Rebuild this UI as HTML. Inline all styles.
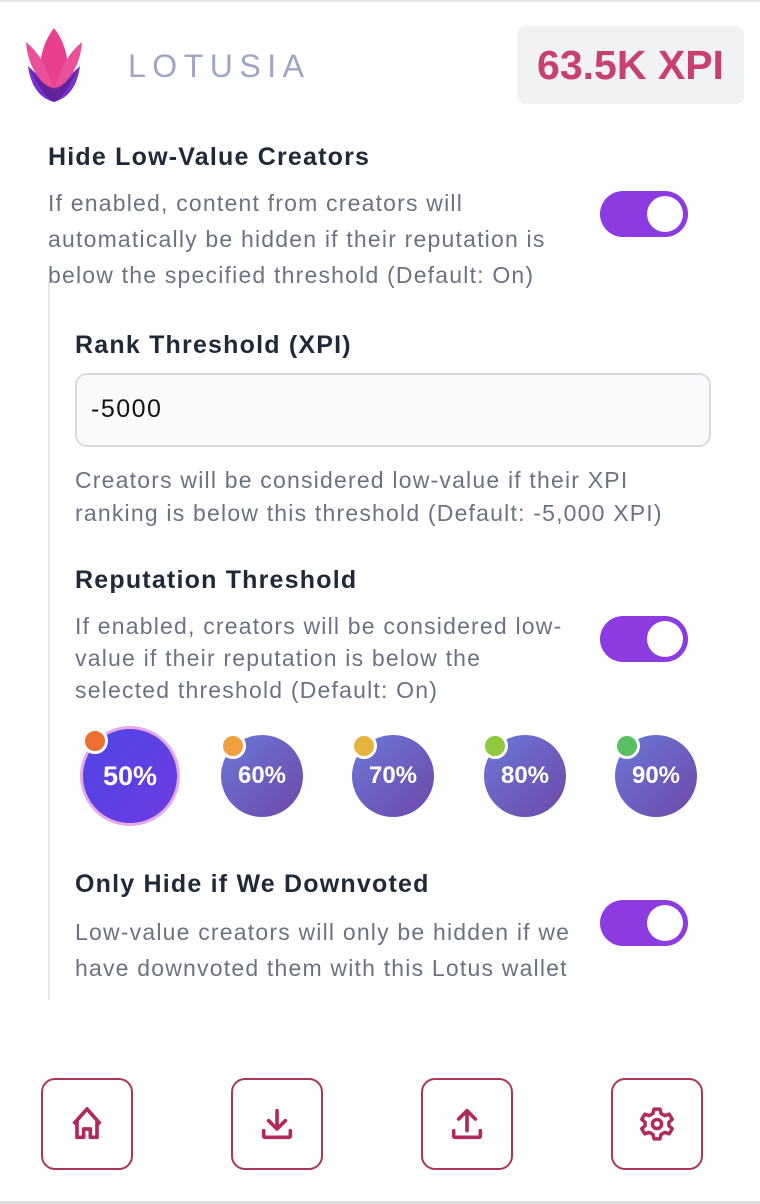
<!DOCTYPE html>
<html><head><style>
body{margin:0;width:760px;height:1204px;background:#fff;position:relative;overflow:hidden;font-family:"Liberation Sans",sans-serif}
.a{position:absolute;white-space:nowrap}
.h{font-size:25px;font-weight:bold;letter-spacing:1.2px;color:#1f2937;line-height:30px}
.d{font-size:23px;letter-spacing:1.2px;color:#6b7280}
.tg{position:absolute;width:88px;height:46px;border-radius:23px;background:#8b3be0}
.tg:after{content:"";position:absolute;right:5px;top:5px;width:36px;height:36px;border-radius:50%;background:#fff}
.c{position:absolute;width:82px;height:82px;border-radius:50%;background:linear-gradient(135deg,#6a78d8,#7048a8);color:#fff;font-weight:bold;font-size:24px;display:flex;align-items:center;justify-content:center}
.dot{position:absolute;width:20px;height:20px;border-radius:50%;border:3px solid #fff}
.b{position:absolute;top:1078px;width:88px;height:88px;border:2px solid #a8375f;border-radius:14px;display:flex;align-items:center;justify-content:center}
</style></head><body>
<div class="a" style="left:0;top:0;width:760px;height:2px;background:#e5e5e5"></div>
<svg class="a" style="left:24px;top:26px" width="60" height="80" viewBox="0 0 60 80">
<path d="M4 40 Q8 70 30 76 Q52 70 56 40 Q44 52 30 60 Q16 52 4 40Z" fill="#7a2fd0"/>
<path d="M30 2 Q16 20 16 45 Q24 62 30 66 Q36 62 44 45 Q44 20 30 2Z" fill="#e8408f"/>
<path d="M2 16 Q4 48 30 66 Q22 32 2 16Z" fill="#e8509a"/>
<path d="M58 16 Q56 48 30 66 Q38 32 58 16Z" fill="#e8509a"/>
<path d="M6 42 Q18 70 30 76 Q42 70 54 42 Q42 60 30 62 Q18 60 6 42Z" fill="#5a1f90" opacity=".8"/>
</svg>
<div class="a" style="left:128px;top:48px;font-size:32px;letter-spacing:6.5px;color:#a0a6c4">LOTUSIA</div>
<div class="a" style="left:517px;top:26px;width:227px;height:78px;background:#f1f2f4;border-radius:8px;display:flex;align-items:center;justify-content:center;font-size:41px;font-weight:bold;color:#c8406f">63.5K XPI</div>

<div class="a h" style="left:48px;top:142px">Hide Low-Value Creators</div>
<div class="a d" style="left:48px;top:185px;line-height:36px">If enabled, content from creators will<br>automatically be hidden if their reputation is<br>below the specified threshold (Default: On)</div>
<div class="tg" style="left:600px;top:191px"></div>
<div class="a" style="left:48px;top:282px;width:2px;height:718px;background:#e5e7eb"></div>

<div class="a h" style="left:75px;top:330px">Rank Threshold (XPI)</div>
<div class="a" style="left:75px;top:373px;width:632px;height:70px;border:2px solid #d8dadf;border-radius:12px;background:#f9fafb"></div>
<div class="a" style="left:91px;top:395px;font-size:25px;letter-spacing:1.5px;color:#111">-5000</div>
<div class="a d" style="left:75px;top:464px;line-height:33px">Creators will be considered low-value if their XPI<br>ranking is below this threshold (Default: -5,000 XPI)</div>

<div class="a h" style="left:75px;top:565px">Reputation Threshold</div>
<div class="a d" style="left:75px;top:610px;line-height:32px">If enabled, creators will be considered low-<br>value if their reputation is below the<br>selected threshold (Default: On)</div>
<div class="tg" style="left:600px;top:616px"></div>

<div class="c" style="left:80px;top:726px;width:94px;height:94px;border:3px solid #e8a8e8;background:linear-gradient(135deg,#4f46e5,#6d3ae0);font-size:27px">50%</div>
<div class="dot" style="left:82px;top:728px;background:#ea6f30"></div>
<div class="c" style="left:221px;top:735px">60%</div>
<div class="dot" style="left:220px;top:733px;background:#f0a040"></div>
<div class="c" style="left:352px;top:735px">70%</div>
<div class="dot" style="left:351px;top:733px;background:#e5b540"></div>
<div class="c" style="left:484px;top:735px">80%</div>
<div class="dot" style="left:482px;top:733px;background:#90c840"></div>
<div class="c" style="left:615px;top:735px">90%</div>
<div class="dot" style="left:614px;top:733px;background:#58c060"></div>

<div class="a h" style="left:75px;top:869px">Only Hide if We Downvoted</div>
<div class="a d" style="left:75px;top:914px;line-height:36px">Low-value creators will only be hidden if we<br>have downvoted them with this Lotus wallet</div>
<div class="tg" style="left:600px;top:900px"></div>

<div class="b" style="left:41px"><svg width="40" height="40" viewBox="0 0 24 24" fill="none" stroke="#b02a5e" stroke-width="2.2" stroke-linejoin="round"><path d="M4 12 L12 3 L20 12 M6 10 V20 H10 V15 H14 V20 H18 V10"/></svg></div>
<div class="b" style="left:231px"><svg width="40" height="40" viewBox="0 0 24 24" fill="none" stroke="#b02a5e" stroke-width="2.2" stroke-linecap="round" stroke-linejoin="round"><path d="M12 4 V15 M7 10 L12 15 L17 10 M4 16 V19 Q4 20 5 20 H19 Q20 20 20 19 V16"/></svg></div>
<div class="b" style="left:421px"><svg width="40" height="40" viewBox="0 0 24 24" fill="none" stroke="#b02a5e" stroke-width="2.2" stroke-linecap="round" stroke-linejoin="round"><path d="M12 16 V4 M7 9 L12 4 L17 9 M4 16 V19 Q4 20 5 20 H19 Q20 20 20 19 V16"/></svg></div>
<div class="b" style="left:611px"><svg width="42" height="42" viewBox="0 0 24 24" fill="none" stroke="#b02a5e" stroke-width="2" stroke-linejoin="round"><path d="M10.3 3.5 H13.7 L14.3 6 L16.5 7.2 L19 6.4 L20.7 9.3 L18.8 11 V13 L20.7 14.7 L19 17.6 L16.5 16.8 L14.3 18 L13.7 20.5 H10.3 L9.7 18 L7.5 16.8 L5 17.6 L3.3 14.7 L5.2 13 V11 L3.3 9.3 L5 6.4 L7.5 7.2 L9.7 6 Z"/><circle cx="12" cy="12" r="2.6"/></svg></div>
<div class="a" style="left:0;top:1201px;width:760px;height:3px;background:#ddd"></div>
</body></html>
